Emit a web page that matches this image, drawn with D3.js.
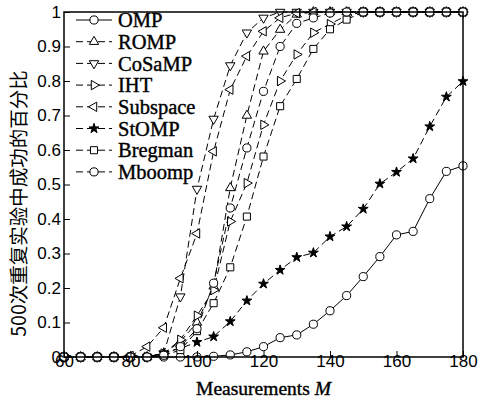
<!DOCTYPE html>
<html>
<head>
<meta charset="utf-8">
<script src="https://cdn.jsdelivr.net/npm/d3@7"></script>
<style>
  body { margin: 0; background: #fff; }
  svg { display: block; }
</style>
</head>
<body>
<svg id="chart" width="482" height="399"></svg>
<script>
// measurements M
const measurements = [60, 65, 70, 75, 80, 85, 90, 95, 100, 105, 110, 115, 120,
  125, 130, 135, 140, 145, 150, 155, 160, 165, 170, 175, 180];

const omp = [0, 0, 0, 0, 0, 0, 0, 0, 0, 0.002, 0.006, 0.015, 0.03,
  0.056, 0.064, 0.095, 0.134, 0.178, 0.233, 0.291, 0.354, 0.364, 0.459, 0.538, 0.554];
const romp = [0, 0, 0, 0, 0, 0, 0.01, 0.045, 0.1, 0.205, 0.49, 0.70, 0.886,
  0.949, 0.993, 1, 1, 1, 1, 1, 1, 1, 1, 1, 1];
const cosamp = [0, 0, 0, 0, 0, 0, 0.01, 0.175, 0.487, 0.69, 0.845, 0.94, 0.983,
  1, 1, 1, 1, 1, 1, 1, 1, 1, 1, 1, 1];
const iht = [0, 0, 0, 0, 0, 0, 0.01, 0.05, 0.12, 0.194, 0.393, 0.504, 0.673,
  0.80, 0.877, 0.94, 0.965, 0.99, 1, 1, 1, 1, 1, 1, 1];
const subspace = [0, 0, 0, 0, 0.003, 0.03, 0.085, 0.228, 0.358, 0.596, 0.775, 0.872, 0.944,
  0.983, 0.997, 1, 1, 1, 1, 1, 1, 1, 1, 1, 1];
const stomp = [0, 0, 0, 0, 0, 0, 0.012, 0.025, 0.043, 0.059, 0.103, 0.163, 0.212,
  0.252, 0.289, 0.302, 0.349, 0.378, 0.429, 0.502, 0.536, 0.575, 0.668, 0.754, 0.799];
const bregman = [0, 0, 0, 0, 0, 0, 0.005, 0.02, 0.075, 0.156, 0.26, 0.407, 0.581,
  0.727, 0.806, 0.893, 0.95, 0.978, 1, 1, 1, 1, 1, 1, 1];
const mboomp = [0, 0, 0, 0, 0, 0, 0.005, 0.03, 0.082, 0.214, 0.432, 0.606, 0.77,
  0.90, 0.967, 0.983, 0.997, 1, 1, 1, 1, 1, 1, 1, 1];

const seriesNames = ["OMP", "ROMP", "CoSaMP", "IHT", "Subspace", "StOMP", "Bregman", "Mboomp"];
const seriesValues = [omp, romp, cosamp, iht, subspace, stomp, bregman, mboomp];

const xTicks = [60, 80, 100, 120, 140, 160, 180];
const yTicks = [0, 0.1, 0.2, 0.3, 0.4, 0.5, 0.6, 0.7, 0.8, 0.9, 1];

const sansFont = "'Liberation Sans', Arial, sans-serif";
const serifFont = "'Liberation Serif', 'Times New Roman', serif";

// marker / line style per series
const styles = [
  { shape: d3.symbolCircle, size: 52, rot: 0, fill: "#fff", dash: null },
  { shape: d3.symbolTriangle, size: 38, rot: 0, fill: "#fff", dash: "7,4" },
  { shape: d3.symbolTriangle, size: 38, rot: 180, fill: "#fff", dash: "7,4" },
  { shape: d3.symbolTriangle, size: 38, rot: 90, fill: "#fff", dash: "7,4" },
  { shape: d3.symbolTriangle, size: 38, rot: -90, fill: "#fff", dash: "7,4" },
  { shape: d3.symbolStar, size: 30, rot: 0, fill: "#000", dash: "7,4" },
  { shape: d3.symbolSquare, size: 50, rot: 0, fill: "#fff", dash: "7,4" },
  { shape: d3.symbolCircle, size: 52, rot: 0, fill: "#fff", dash: "7,4" },
];

const svg = d3.select("#chart");
const m = { left: 64, right: 463, top: 12, bottom: 357 };

const x = d3.scaleLinear().domain([60, 180]).range([m.left, m.right]);
const y = d3.scaleLinear().domain([0, 1]).range([m.bottom, m.top]);

const line = d3.line()
  .x((d, i) => x(measurements[i]))
  .y((d) => y(d));

const gSeries = svg.append("g");
seriesValues.forEach((vals, k) => {
  const st = styles[k];
  const g = gSeries.append("g");
  g.append("path")
    .attr("d", line(vals))
    .attr("fill", "none")
    .attr("stroke", "#000")
    .attr("stroke-width", 1)
    .attr("stroke-dasharray", st.dash);
  g.selectAll("path.mk")
    .data(vals)
    .join("path")
    .attr("class", "mk")
    .attr("d", d3.symbol().type(st.shape).size(st.size))
    .attr("transform", (d, i) => `translate(${x(measurements[i])},${y(d)}) rotate(${st.rot})`)
    .attr("fill", st.fill)
    .attr("stroke", "#000")
    .attr("stroke-width", 1);
});

// frame
svg.append("rect")
  .attr("x", m.left).attr("y", m.top)
  .attr("width", m.right - m.left).attr("height", m.bottom - m.top)
  .attr("fill", "none").attr("stroke", "#000").attr("stroke-width", 1.5);

// axes with inward ticks
const xAxis = d3.axisBottom(x).tickValues(xTicks).tickSizeInner(-6).tickSizeOuter(0).tickPadding(2);
const yAxis = d3.axisLeft(y).tickValues(yTicks).tickSizeInner(-6).tickSizeOuter(0).tickPadding(3)
  .tickFormat((d) => d3.format("~g")(d));

svg.append("g").attr("transform", `translate(0,${m.bottom})`).call(xAxis)
  .attr("font-size", 17).attr("font-family", sansFont)
  .call((g) => g.select(".domain").remove())
  .call((g) => g.selectAll("line").attr("stroke-width", 1))
  .call((g) => g.selectAll("text").attr("dy", "0.45em"));
svg.append("g").attr("transform", `translate(${m.left},0)`).call(yAxis)
  .attr("font-size", 17).attr("font-family", sansFont)
  .call((g) => g.select(".domain").remove())
  .call((g) => g.selectAll("line").attr("stroke-width", 1));

// legend
const legend = svg.append("g");
seriesNames.forEach((name, k) => {
  const st = styles[k];
  const ly = 20 + k * 21.7;
  legend.append("line")
    .attr("x1", 76).attr("x2", 112).attr("y1", ly).attr("y2", ly)
    .attr("stroke", "#000").attr("stroke-width", 1)
    .attr("stroke-dasharray", st.dash);
  legend.append("path")
    .attr("d", d3.symbol().type(st.shape).size(st.size)())
    .attr("transform", `translate(94,${ly}) rotate(${st.rot})`)
    .attr("fill", st.fill).attr("stroke", "#000");
  legend.append("text")
    .attr("x", 118).attr("y", ly).attr("dy", "0.35em")
    .attr("font-family", serifFont).attr("font-size", 20.5)
    .attr("stroke", "#000").attr("stroke-width", 0.4)
    .text(name);
});

// titles
const xt = svg.append("text")
  .attr("x", (m.left + m.right) / 2).attr("y", 395)
  .attr("text-anchor", "middle")
  .attr("font-family", serifFont).attr("font-size", 19.5)
  .attr("stroke", "#000").attr("stroke-width", 0.4);
xt.append("tspan").text("Measurements ");
xt.append("tspan").attr("font-style", "italic").text("M");

svg.append("text")
  .attr("transform", `translate(26,${(m.top + m.bottom) / 2 + 19}) rotate(-90)`)
  .attr("text-anchor", "middle")
  .attr("font-family", "'Noto Sans CJK SC', sans-serif").attr("font-size", 19.5)
  .text("500次重复实验中成功的百分比");
</script>
</body>
</html>
